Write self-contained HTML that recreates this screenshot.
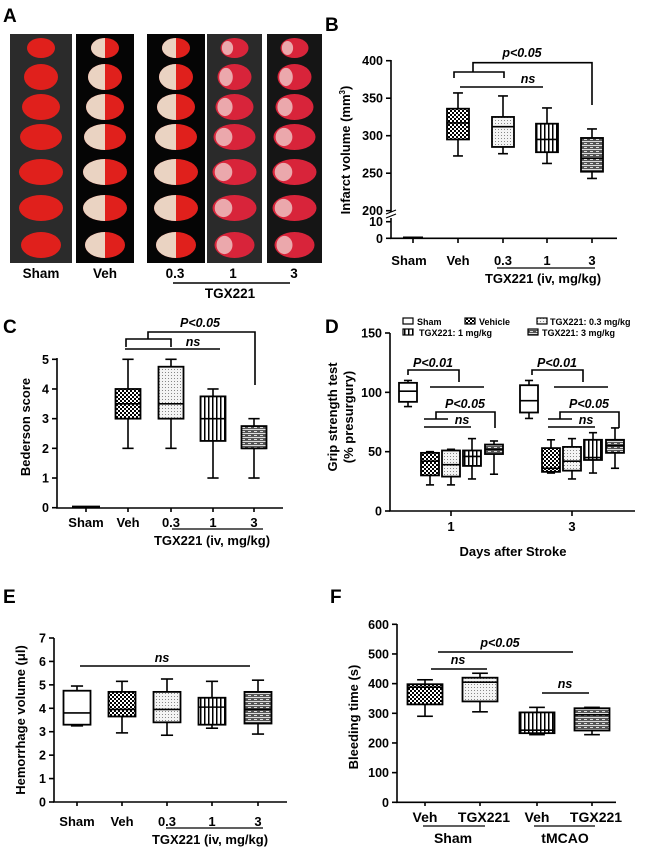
<!DOCTYPE html>
<html><head><meta charset="utf-8"><style>
html,body{margin:0;padding:0;background:#fff}
svg{display:block;font-family:"Liberation Sans",sans-serif;font-weight:bold}
</style></head><body>
<svg id="fig" width="660" height="848" viewBox="0 0 660 848" xmlns="http://www.w3.org/2000/svg">
<defs>
<pattern id="pChk" width="4" height="4" patternUnits="userSpaceOnUse"><rect width="4" height="4" fill="#fff"/><rect width="2" height="2" fill="#000"/><rect x="2" y="2" width="2" height="2" fill="#000"/></pattern>
<pattern id="pDot" width="3" height="3" patternUnits="userSpaceOnUse"><rect width="3" height="3" fill="#f4f4f4"/><rect width="1" height="1" fill="#888"/></pattern>
<pattern id="pVert" width="4" height="4" patternUnits="userSpaceOnUse"><rect width="4" height="4" fill="#fff"/><rect width="1.5" height="4" fill="#000"/></pattern>
<pattern id="pBrick" width="6" height="4" patternUnits="userSpaceOnUse"><rect width="6" height="4" fill="#555"/><rect y="1" width="6" height="1" fill="#ddd"/><rect x="2" y="3" width="3" height="1" fill="#ddd"/></pattern>
</defs>
<g id="panelA"></g>
<g id="charts"></g>
</svg>
<script>
var NS="http://www.w3.org/2000/svg";
var svg=document.getElementById('fig');
function el(t,a,p){var e=document.createElementNS(NS,t);for(var k in a)e.setAttribute(k,a[k]);(p||svg).appendChild(e);return e;}
function txt(s,x,y,size,anchor,p,extra){var e=el('text',Object.assign({x:x,y:y,'font-size':size,'text-anchor':anchor||'middle'},extra||{}),p);e.textContent=s;return e;}
function line(x1,y1,x2,y2,p,w){return el('line',{x1:x1,y1:y1,x2:x2,y2:y2,stroke:'#000','stroke-width':w||1.6},p);}

// ---------- Panel data ----------
var bCats=["Sham","Veh","0.3","1","3"];
var bMin=[0,273,276,263,243], bQ1=[0,295,285,278,252], bMed=[0.5,317,312,295,270], bQ3=[1,336,325,316,297], bMax=[1,357,353,337,309];
var bTicksUpper=[200,250,300,350,400], bTicksLower=[0,10];
var cCats=["Sham","Veh","0.3","1","3"];
var cMin=[0,2,2,1,1], cQ1=[0,3,3,2.25,2], cMed=[0,3.5,3.5,3,2], cQ3=[0,4,4.75,3.75,2.75], cMax=[0,5,5,4,3];
var cTicks=[0,1,2,3,4,5];
var dDays=["1","3"];
var dSeries=["Sham","Vehicle","TGX221: 0.3 mg/kg","TGX221: 1 mg/kg","TGX221: 3 mg/kg"];
var dMin=[[88,22,22,27,31],[78,32,27,32,36]];
var dQ1=[[92,30,29,38,48],[83,33,34,43,49]];
var dMed=[[101,42,39,46,52],[93,36,42,45,55]];
var dQ3=[[108,49,51,51,56],[106,53,54,60,60]];
var dMax=[[110,50,52,61,59],[110,60,61,66,70]];
var dTicks=[0,50,100,150];
var eCats=["Sham","Veh","0.3","1","3"];
var eMin=[3.25,2.95,2.85,3.15,2.9], eQ1=[3.3,3.65,3.4,3.3,3.35], eMed=[3.8,3.95,3.95,4.05,3.95], eQ3=[4.75,4.7,4.7,4.45,4.7], eMax=[4.95,5.15,5.25,5.15,5.2];
var eTicks=[0,1,2,3,4,5,6,7];
var fCats=["Veh","TGX221","Veh","TGX221"];
var fMin=[290,305,228,228], fQ1=[330,340,233,242], fMed=[388,405,243,295], fQ3=[398,420,303,317], fMax=[413,435,320,320];
var fTicks=[0,100,200,300,400,500,600];

var fills=['#fff','url(#pChk)','url(#pDot)','url(#pVert)','url(#pBrick)'];
var TK=12.5, CL=13, TT=13;

function linScale(d0,d1,r0,r1){return function(v){return r0+(v-d0)*(r1-r0)/(d1-d0);};}
function box(g,x,w,y,mn,q1,md,q3,mx,fill,name){
  var b=el('g',{},g);
  
  
  var cw=w*0.45;
  line(x,y(mx),x,y(q3),b);line(x,y(q1),x,y(mn),b);
  line(x-cw/2,y(mx),x+cw/2,y(mx),b);line(x-cw/2,y(mn),x+cw/2,y(mn),b);
  el('rect',{x:x-w/2,y:y(q3),width:w,height:Math.max(1,y(q1)-y(q3)),fill:fill,stroke:'#000','stroke-width':1.8},b);
  line(x-w/2,y(md),x+w/2,y(md),b);
}
function panelLetter(s,x,y){var t=txt(s,x,y,19,'start');}
function ytitle(s,x,y,g,size){var t=txt(s,x,y,size||TT,'middle',g,{transform:'rotate(-90 '+x+' '+y+')'});return t;}

// ---------- Panel A ----------
(function(){
  var g=document.getElementById('panelA');
  var strips=[[10,72,'#2b2b2b','sham'],[76,134,'#050505','veh'],[147,205,'#050505','veh'],[207,262,'#2a2a2a','low'],[267,322,'#151515','low']];
  var rows=[48,77,107,137,172,208,245];
  var widths=[28,34,38,42,44,44,40];
  strips.forEach(function(s,i){
    var sg=el('g',{},g);
    
    
    el('rect',{x:s[0],y:34,width:s[1]-s[0],height:229,fill:s[2]},sg);
    var cx=(s[0]+s[1])/2;
    rows.forEach(function(ry,j){
      var w=Math.min(widths[j],s[1]-s[0]-10)/2, h=(j<1?10:13);
      el('ellipse',{cx:cx,cy:ry,rx:w,ry:h,fill:s[3]=='low'?'#d8243a':'#e0201c'},sg);
      if(s[3]=='veh'){el('path',{d:'M'+cx+' '+(ry-h)+' A'+w+' '+h+' 0 0 0 '+cx+' '+(ry+h)+' Z',fill:'#ead3c2'},sg);}
      if(s[3]=='low'){el('ellipse',{cx:cx-w*0.5,cy:ry,rx:w*0.4,ry:h*0.7,fill:'#f0c9c9',opacity:0.8},sg);}
    });
  });
  var lbl=[['Sham',41],['Veh',105],['0.3',175],['1',233],['3',294]];
  lbl.forEach(function(l){txt(l[0],l[1],278,13.5,'middle',g);});
  line(173,283,290,283,g,1.5);
  txt('TGX221',230,298,13.5,'middle',g);
})();
panelLetter('A',3,22);
panelLetter('B',325,31);
panelLetter('C',3,333);
panelLetter('D',325,333);
panelLetter('E',3,603);
panelLetter('F',330,603);

var C=document.getElementById('charts');
function newG(name){var g=el('g',{},C);return g;}

// ---------- Panel B ----------
(function(){
  var g=newG('panel-b-infarct-chart');
  var yU=linScale(200,400,210.7,60.7), yL=linScale(0,10,238.3,221.7);
  var y=function(v){return v>=100?yU(v):yL(v);};
  var xs=[413,458,503,547,592];
  var ax=el('g',{},g);
  line(391,60,391,212,ax);line(391,218,391,238.3,ax);
  line(386,214,396,210,ax,1.2);line(386,218,396,214,ax,1.2);
  bTicksUpper.forEach(function(t){line(386,yU(t),391,yU(t),ax);txt(t,383,yU(t)+4.5,TK,'end',ax);});
  bTicksLower.forEach(function(t){line(386,yL(t),391,yL(t),ax);txt(t,383,yL(t)+4.5,TK,'end',ax);});
  var xa=el('g',{},g);
  line(390,238.3,617,238.3,xa);
  bCats.forEach(function(c,i){line(xs[i],238.3,xs[i],243,xa);txt(c,xs[i]+(i==0?-4:0),265,CL,'middle',xa);});
  line(497,268,595,268,xa,1.3);
  txt('TGX221 (iv, mg/kg)',543,283,CL,'middle',xa);
  var yt=ytitle('',350,150,g,TT);
  yt.textContent='Infarct volume (mm';var sp=el('tspan',{'font-size':8,dy:-5},yt);sp.textContent='3';var sp2=el('tspan',{dy:5},yt);sp2.textContent=')';
  for(var i=0;i<5;i++){
    if(i==0){line(xs[i]-10,y(bMed[i]),xs[i]+10,y(bMed[i]),g,2);continue;}
    box(g,xs[i],22,y,bMin[i],bQ1[i],bMed[i],bQ3[i],bMax[i],fills[i],'box-'+bCats[i]);
  }
  var s=el('g',{},g);
  el('polyline',{points:'473,72 473,62.7 592,62.7 592,105',fill:'none',stroke:'#000','stroke-width':1.6},s);
  el('polyline',{points:'454,78 454,72 504,72 504,78',fill:'none',stroke:'#000','stroke-width':1.6},s);
  line(460,87,543,87,s);
  txt('p<0.05',522,57,12.5,'middle',s,{'font-style':'italic'});
  txt('ns',528,83,12.5,'middle',s,{'font-style':'italic'});
})();

// ---------- Panel C ----------
(function(){
  var g=newG('panel-c-bederson-chart');
  var y=linScale(0,5,507.7,359.3);
  var xs=[86,128,171,213,254];
  var ax=el('g',{},g);
  line(57,358,57,508,ax);
  cTicks.forEach(function(t){line(52,y(t),57,y(t),ax);txt(t,49,y(t)+4.5,TK,'end',ax);});
  var xa=el('g',{},g);
  line(56,508,283,508,xa);
  cCats.forEach(function(c,i){line(xs[i],508,xs[i],512,xa);txt(c,xs[i],527,CL,'middle',xa);});
  line(172,529,263,529,xa,1.3);
  txt('TGX221 (iv, mg/kg)',212,545,CL,'middle',xa);
  var yt=ytitle('Bederson score',30,427,g,TT);
  for(var i=0;i<5;i++){
    if(i==0){line(xs[i]-14,y(0)-1,xs[i]+14,y(0)-1,g,2.2);continue;}
    box(g,xs[i],25,y,cMin[i],cQ1[i],cMed[i],cQ3[i],cMax[i],fills[i],'box-'+cCats[i]);
  }
  var s=el('g',{},g);
  el('polyline',{points:'148,339 148,332 255,332 255,385',fill:'none',stroke:'#000','stroke-width':1.6},s);
  el('polyline',{points:'126,347 126,339 171,339 171,347',fill:'none',stroke:'#000','stroke-width':1.6},s);
  line(125,349,220,349,s);
  txt('P<0.05',200,327,12.5,'middle',s,{'font-style':'italic'});
  txt('ns',193,346,12.5,'middle',s,{'font-style':'italic'});
})();

// ---------- Panel D ----------
(function(){
  var g=newG('panel-d-grip-chart');
  var y=linScale(0,150,511,333);
  var centers=[451,572];
  var offs=[-43,-21,0,21,43];
  var ax=el('g',{},g);
  line(390,333,390,511,ax);
  dTicks.forEach(function(t){line(385,y(t),390,y(t),ax);txt(t,382,y(t)+4.5,TK,'end',ax);});
  var xa=el('g',{},g);
  line(389,511,635,511,xa);
  dDays.forEach(function(d,i){line(centers[i],511,centers[i],516,xa);txt(d,centers[i],531,CL,'middle',xa);});
  txt('Days after Stroke',513,556,TT,'middle',xa);
  var yt=ytitle('Grip strength test',337,417,g,TT);
  ytitle('(% presurgury)',353,417,g,TT);
  for(var d=0;d<2;d++)for(var i=0;i<5;i++){
    box(g,centers[d]+offs[i],18,y,dMin[d][i],dQ1[d][i],dMed[d][i],dQ3[d][i],dMax[d][i],fills[i],'box-day'+dDays[d]+'-'+i);
  }
  var s=el('g',{},g);
  [0,124].forEach(function(dx){
    el('polyline',{points:(408+dx)+',375 '+(408+dx)+',370 '+(459+dx)+',370 '+(459+dx)+',382',fill:'none',stroke:'#000','stroke-width':1.6},s);
    line(430+dx,387,484+dx,387,s);
    el('polyline',{points:(436+dx)+',419 '+(436+dx)+',412 '+(495+dx)+',412 '+(495+dx)+',428',fill:'none',stroke:'#000','stroke-width':1.6},s);
    line(424+dx,419,448+dx,419,s);
    line(424+dx,427,471+dx,427,s);
    txt('P<0.01',433+dx,367,12.5,'middle',s,{'font-style':'italic'});
    txt('P<0.05',465+dx,408,12.5,'middle',s,{'font-style':'italic'});
    txt('ns',462+dx,424,12.5,'middle',s,{'font-style':'italic'});
  });
  var lg=el('g',{},g);
  var lpos=[[403,322,425],[465,322,487],[537,322,558],[403,333,427],[528,333,550]];
  dSeries.forEach(function(n,i){
    var e=el('g',{},lg);
    
    
    el('rect',{x:lpos[i][0],y:lpos[i][1]-4,width:10,height:6,fill:fills[i],stroke:'#000','stroke-width':1.2},e);
    txt(n,lpos[i][2]-8,lpos[i][1]+3,9,'start',e);
  });
})();

// ---------- Panel E ----------
(function(){
  var g=newG('panel-e-hemorrhage-chart');
  var y=linScale(0,7,802,638);
  var xs=[77,122,167,212,258];
  var ax=el('g',{},g);
  line(54,638,54,802,ax);
  eTicks.forEach(function(t){line(49,y(t),54,y(t),ax);txt(t,46,y(t)+4.5,TK,'end',ax);});
  var xa=el('g',{},g);
  line(53,802,287,802,xa);
  eCats.forEach(function(c,i){line(xs[i],802,xs[i],806,xa);txt(c,xs[i],826,CL,'middle',xa);});
  line(166,828,263,828,xa,1.3);
  txt('TGX221 (iv, mg/kg)',210,844,CL,'middle',xa);
  var yt=ytitle('Hemorrhage volume (\u03bcl)',25,720,g,TT);
  for(var i=0;i<5;i++) box(g,xs[i],27,y,eMin[i],eQ1[i],eMed[i],eQ3[i],eMax[i],fills[i],'box-'+eCats[i]);
  var s=el('g',{},g);
  line(80,666,250,666,s);
  txt('ns',162,662,12.5,'middle',s,{'font-style':'italic'});
})();

// ---------- Panel F ----------
(function(){
  var g=newG('panel-f-bleeding-chart');
  var y=linScale(0,600,802.3,624.3);
  var xs=[425,480,537,592];
  var ffill=['url(#pChk)','url(#pDot)','url(#pVert)','url(#pBrick)'];
  var ax=el('g',{},g);
  line(397,624,397,802.3,ax);
  fTicks.forEach(function(t){line(392,y(t),397,y(t),ax);txt(t,389,y(t)+4.5,TK,'end',ax);});
  var xa=el('g',{},g);
  line(396,802.3,616,802.3,xa);
  fCats.forEach(function(c,i){line(xs[i],802,xs[i],806,xa);txt(c,xs[i]+(i%2?4:0),822,14,'middle',xa);});
  line(423,826,485,826,xa,1.3);line(534,826,595,826,xa,1.3);
  txt('Sham',453,843,14,'middle',xa);txt('tMCAO',565,843,14,'middle',xa);
  var yt=ytitle('Bleeding time (s)',358,717,g,TT);
  for(var i=0;i<4;i++) box(g,xs[i],35,y,fMin[i],fQ1[i],fMed[i],fQ3[i],fMax[i],ffill[i],'box-'+i);
  var s=el('g',{},g);
  line(438,652,573,652,s);line(431,669,487,669,s);line(542,693,589,693,s);
  txt('p<0.05',500,647,12.5,'middle',s,{'font-style':'italic'});
  txt('ns',458,664,12.5,'middle',s,{'font-style':'italic'});
  txt('ns',565,688,12.5,'middle',s,{'font-style':'italic'});
})();
</script>
</body></html>
